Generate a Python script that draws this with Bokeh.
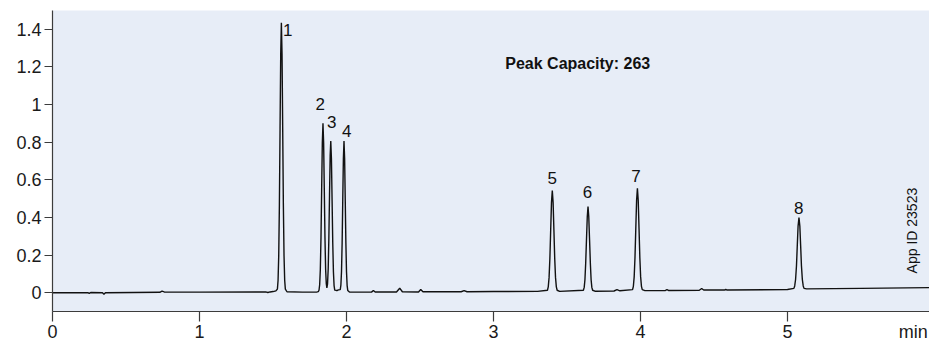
import math
from bokeh.plotting import figure
from bokeh.models import Range1d, FixedTicker, Label, ColumnDataSource, LinearAxis
from bokeh.core.properties import value
from bokeh.embed import file_html
from bokeh.resources import INLINE

# ---- data ----
time_min = [
    0.00, 0.24, 0.25, 0.26, 0.34, 0.35, 0.36, 0.55, 0.73, 0.745, 0.76, 1.00, 1.45, 1.465, 1.48, 1.50, 1.52,
    1.530, 1.5345, 1.539, 1.5435, 1.548, 1.5525, 1.557, 1.5615, 1.566, 1.5705, 1.575, 1.5795, 1.584, 1.595,
    1.70, 1.80, 1.808,
    1.813, 1.8175, 1.822, 1.8265, 1.831, 1.8355, 1.840, 1.8445, 1.849, 1.8535, 1.858, 1.8625, 1.8665,
    1.871, 1.8755, 1.880, 1.8845, 1.889, 1.893, 1.8975, 1.902, 1.9065, 1.911, 1.9155, 1.920, 1.930, 1.938, 1.945,
    1.9575, 1.9618, 1.966, 1.9703, 1.9745, 1.9788, 1.983, 1.9873, 1.9915, 1.9958, 2.000, 2.0043, 2.0085, 2.02,
    2.10, 2.17, 2.183, 2.195, 2.34, 2.362, 2.38, 2.49, 2.505, 2.52, 2.78, 2.80, 2.82, 3.00, 3.30,
    3.367, 3.3725, 3.378, 3.3835, 3.389, 3.3945, 3.400, 3.4055, 3.411, 3.4165, 3.422, 3.4275, 3.433, 3.45,
    3.6115, 3.617, 3.622, 3.627, 3.6325, 3.638, 3.643, 3.648, 3.6535, 3.659, 3.664, 3.669, 3.6745, 3.69,
    3.82, 3.84, 3.86,
    3.946, 3.9515, 3.957, 3.9625, 3.968, 3.9735, 3.979, 3.9845, 3.990, 3.9955, 4.001, 4.0065, 4.012, 4.03,
    4.17, 4.18, 4.19, 4.40, 4.416, 4.43, 4.57, 4.58, 4.59, 5.00,
    5.0435, 5.049, 5.055, 5.061, 5.0665, 5.072, 5.078, 5.084, 5.0895, 5.095, 5.101, 5.107, 5.1125, 5.13,
    5.50, 5.97,
]
signal = [
    0.000, 0.000, -0.004, 0.001, 0.000, -0.008, 0.000, 0.001, 0.002, 0.008, 0.004, 0.003, 0.004, 0.001, 0.004, 0.006, 0.010,
    0.019, 0.066, 0.197, 0.468, 0.872, 1.267, 1.435, 1.267, 0.872, 0.468, 0.197, 0.066, 0.019, 0.005,
    0.003, 0.004, 0.006,
    0.013, 0.042, 0.124, 0.294, 0.547, 0.795, 0.900, 0.795, 0.547, 0.294, 0.124, 0.048, 0.025,
    0.047, 0.126, 0.288, 0.518, 0.731, 0.806, 0.712, 0.490, 0.264, 0.112, 0.038, 0.014, 0.012, 0.012, 0.015,
    0.016, 0.040, 0.112, 0.264, 0.490, 0.712, 0.806, 0.712, 0.490, 0.264, 0.112, 0.038, 0.012, 0.004,
    0.003, 0.003, 0.012, 0.004, 0.004, 0.024, 0.005, 0.004, 0.017, 0.005, 0.005, 0.011, 0.005, 0.006, 0.007,
    0.013, 0.031, 0.080, 0.181, 0.332, 0.480, 0.543, 0.480, 0.332, 0.181, 0.080, 0.031, 0.013, 0.007,
    0.013, 0.028, 0.069, 0.154, 0.281, 0.405, 0.458, 0.405, 0.281, 0.154, 0.069, 0.028, 0.013, 0.008,
    0.009, 0.016, 0.010,
    0.016, 0.034, 0.084, 0.187, 0.341, 0.491, 0.555, 0.491, 0.341, 0.187, 0.084, 0.034, 0.016, 0.011,
    0.012, 0.016, 0.012, 0.013, 0.022, 0.014, 0.014, 0.017, 0.014, 0.017,
    0.023, 0.036, 0.070, 0.142, 0.249, 0.354, 0.399, 0.354, 0.249, 0.142, 0.070, 0.036, 0.023, 0.020,
    0.023, 0.027,
]

peak_labels = ["1", "2", "3", "4", "5", "6", "7", "8"]
peak_label_x = [1.600, 1.821, 1.899, 2.001, 3.400, 3.640, 3.970, 5.076]
peak_label_y = [1.396, 1.002, 0.909, 0.858, 0.608, 0.534, 0.619, 0.451]

x_ticks = [0, 1, 2, 3, 4, 5]
x_tick_labels = ["0", "1", "2", "3", "4", "5"]
x_unit_pos = 5.855
x_unit = "min"
y_ticks = [0, 0.2, 0.4, 0.6, 0.8, 1.0, 1.2, 1.4]
y_tick_labels = ["0", "0.2", "0.4", "0.6", "0.8", "1", "1.2", "1.4"]

annotation_text = "Peak Capacity: 263"
app_id_text = "App ID 23523"

# ---- figure ----
FONT = "Liberation Sans"
AXIS_COLOR = "#3c3c3c"
p = figure(width=929, height=344, output_backend="svg", toolbar_location=None,
           x_range=Range1d(0, 5.966), y_range=Range1d(-0.1, 1.5),
           x_axis_location=None,
           min_border_left=52, min_border_right=0, min_border_top=10, min_border_bottom=33)
p.background_fill_color = "#e7edf7"
p.border_fill_color = "white"
p.outline_line_color = None
p.grid.visible = False

p.line(time_min, signal, line_color="#111111", line_width=1.4)

src = ColumnDataSource(dict(x=peak_label_x, y=peak_label_y, t=peak_labels))
p.text(x="x", y="y", text="t", source=src, text_font=value(FONT), text_font_size="17px",
       text_align="center", text_baseline="middle", text_color="#111111")

# x axis: line + tick marks (no labels)
xa_ticks = LinearAxis(ticker=FixedTicker(ticks=x_ticks),
                      major_label_overrides={t: "" for t in x_ticks},
                      axis_line_color=AXIS_COLOR, axis_line_width=1.2,
                      major_tick_line_color=AXIS_COLOR, major_tick_line_width=1.2,
                      minor_tick_line_color=None, major_tick_in=0, major_tick_out=10,
                      major_label_standoff=0, major_label_text_font_size="0px")
p.add_layout(xa_ticks, "below")

# x axis labels (plus the unit) without marks
xa_labels = LinearAxis(ticker=FixedTicker(ticks=x_ticks + [x_unit_pos]),
                       major_label_overrides={**{t: l for t, l in zip(x_ticks, x_tick_labels)},
                                              x_unit_pos: x_unit},
                       axis_line_color=None, major_tick_line_color=None,
                       minor_tick_line_color=None, major_tick_in=0, major_tick_out=0,
                       major_label_standoff=0, major_label_text_font=FONT,
                       major_label_text_font_size="18px", major_label_text_color="#1a1a1a")
p.add_layout(xa_labels, "below")

ya = p.yaxis[0]
ya.ticker = FixedTicker(ticks=y_ticks)
ya.major_label_overrides = {t: l for t, l in zip(y_ticks, y_tick_labels)}
ya.axis_line_color = AXIS_COLOR
ya.axis_line_width = 1.2
ya.major_tick_line_color = AXIS_COLOR
ya.major_tick_line_width = 1.2
ya.minor_tick_line_color = None
ya.major_tick_in = 0
ya.major_tick_out = 8
ya.major_label_standoff = 3
ya.major_label_text_font = FONT
ya.major_label_text_font_size = "18px"
ya.major_label_text_color = "#1a1a1a"

p.add_layout(Label(x=3.08, y=1.22, text=annotation_text, text_align="left", text_baseline="middle",
                   text_font=FONT, text_font_style="bold", text_font_size="16px",
                   text_color="#111111"))
p.add_layout(Label(x=5.85, y=0.33, text=app_id_text, angle=math.pi / 2, text_align="center",
                   text_baseline="middle", text_font=FONT, text_font_size="14px",
                   text_color="#111111"))

open("out.html", "w").write(file_html(p, INLINE))
